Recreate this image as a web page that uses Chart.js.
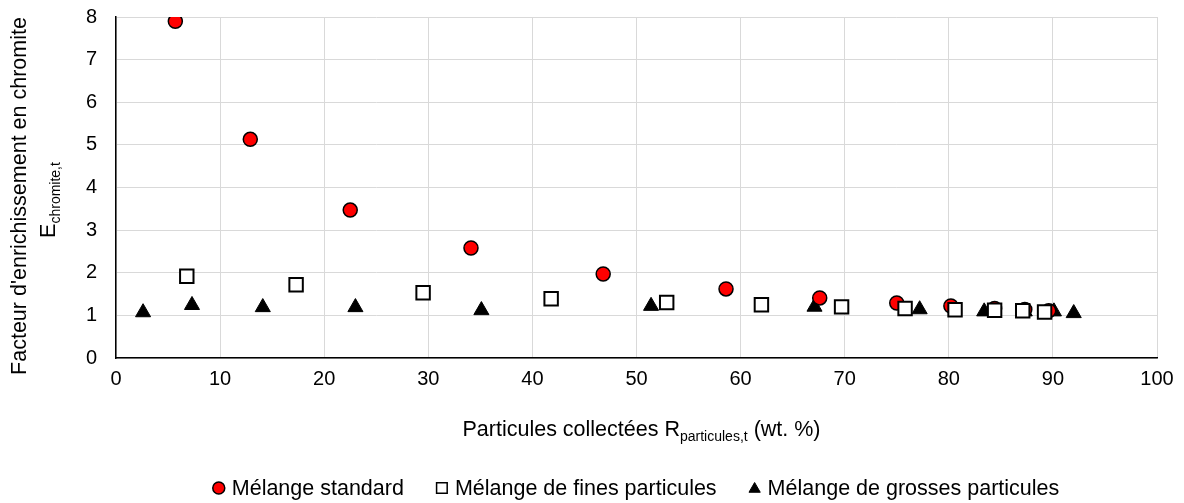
<!DOCTYPE html>
<html>
<head>
<meta charset="utf-8">
<script src="https://cdn.jsdelivr.net/npm/chart.js@4"></script>
<style>
html,body{margin:0;padding:0;background:#fff;}
#wrap{width:1184px;height:503px;position:relative;}
</style>
</head>
<body>
<div id="wrap"><canvas id="c" width="1184" height="503"></canvas></div>
<script>
// ---- data ----
const seriesNames = ["Mélange standard", "Mélange de fines particules", "Mélange de grosses particules"];
const standardX = [5.7, 12.9, 22.5, 34.1, 46.8, 58.6, 67.6, 75.0, 80.2, 84.4, 87.3, 89.6];
const standardY = [7.90, 5.13, 3.47, 2.58, 1.97, 1.62, 1.41, 1.29, 1.22, 1.16, 1.14, 1.11];
const finesX = [6.8, 17.3, 29.5, 41.8, 52.9, 62.0, 69.7, 75.8, 80.6, 84.4, 87.1, 89.2];
const finesY = [1.92, 1.72, 1.53, 1.39, 1.30, 1.25, 1.20, 1.16, 1.13, 1.12, 1.11, 1.08];
const grossesX = [2.6, 7.3, 14.1, 23.0, 35.1, 51.4, 67.1, 77.2, 83.4, 87.3, 90.1, 92.0];
const grossesY = [1.07, 1.24, 1.19, 1.19, 1.12, 1.22, 1.20, 1.14, 1.09, 1.09, 1.09, 1.05];
const xTicks = [0, 10, 20, 30, 40, 50, 60, 70, 80, 90, 100];
const yTicks = [0, 1, 2, 3, 4, 5, 6, 7, 8];
const yTitleLine1 = [{t:"Facteur d'enrichissement en chromite"}];
const yTitleLine2 = [{t:"E"},{t:"chromite,t",sub:true}];
const xTitle = [{t:"Particules collectées R"},{t:"particules,t",sub:true},{t:" (wt. %)"}];

const FONT = "'Liberation Sans', Arial, sans-serif";
const FS = 20;      // tick labels
const FT = 21.5;    // titles & legend

function pts(xs, ys){ return xs.map((x,i)=>({x:x, y:ys[i]})); }

function drawRich(ctx, segs, cx, cy, size){
  const subSize = Math.round(size*0.65);
  let w = 0;
  segs.forEach(s=>{ ctx.font = (s.sub?subSize:size)+"px "+FONT; s.w = ctx.measureText(s.t).width; w += s.w; });
  let x = cx - w/2;
  ctx.textBaseline = "alphabetic";
  ctx.textAlign = "left";
  segs.forEach(s=>{
    ctx.font = (s.sub?subSize:size)+"px "+FONT;
    ctx.fillText(s.t, x, cy + size*0.36 + (s.sub? size*0.25 : 0));
    x += s.w;
  });
}

const titlesPlugin = {
  id: 'titlesAndLegend',
  afterDraw(chart){
    const ctx = chart.ctx;
    const ca = chart.chartArea;
    ctx.save();
    ctx.fillStyle = "#000";
    // x title
    drawRich(ctx, xTitle, (ca.left+ca.right)/2 + 5, 428, FT);
    // y title
    ctx.save();
    ctx.translate(18, 196);
    ctx.rotate(-Math.PI/2);
    drawRich(ctx, yTitleLine1, 0, 0, FT);
    ctx.restore();
    ctx.save();
    ctx.translate(47, 200);
    ctx.rotate(-Math.PI/2);
    drawRich(ctx, yTitleLine2, 0, 0, FT);
    ctx.restore();
    // legend
    ctx.font = FT+"px "+FONT;
    const gapMarkerText = 13, gapItems = 38;
    const widths = seriesNames.map(n=>ctx.measureText(n).width);
    let total = 0;
    widths.forEach((w,i)=>{ total += gapMarkerText + w + (i<widths.length-1?gapItems:0); });
    let x = 639 - total/2;
    const ly = 488;
    const legendStyles = [
      {pointStyle:'circle', radius:6, borderWidth:1.5, bg:'#ff0000'},
      {pointStyle:'rect', radius:7.5, borderWidth:1.5, bg:'#ffffff'},
      {pointStyle:'triangle', radius:6.5, borderWidth:1, bg:'#000000'}
    ];
    seriesNames.forEach((name,i)=>{
      const st = legendStyles[i];
      ctx.fillStyle = st.bg;
      ctx.strokeStyle = '#000';
      ctx.lineWidth = st.borderWidth;
      Chart.helpers.drawPoint(ctx, {pointStyle: st.pointStyle, radius: st.radius, rotation: 0, borderWidth: st.borderWidth}, x, ly + (st.pointStyle==='triangle'?1:0));
      ctx.fillStyle = '#000';
      ctx.font = FT+"px "+FONT;
      ctx.textAlign = 'left';
      ctx.textBaseline = 'middle';
      ctx.fillText(name, x + gapMarkerText, ly+1);
      x += gapMarkerText + widths[i] + gapItems;
    });
    ctx.restore();
  }
};

new Chart(document.getElementById('c'), {
  type: 'scatter',
  data: {
    datasets: [
      { label: seriesNames[0], data: pts(standardX, standardY), pointStyle:'circle', pointRadius:7, backgroundColor:'#ff0000', borderColor:'#000', borderWidth:1.5, order:2 },
      { label: seriesNames[1], data: pts(finesX, finesY), pointStyle:'rect', pointRadius:9.5, backgroundColor:'#ffffff', borderColor:'#000', borderWidth:2, order:1 },
      { label: seriesNames[2], data: pts(grossesX, grossesY), pointStyle:'triangle', pointRadius:8.7, backgroundColor:'#000', borderColor:'#000', borderWidth:1, order:3 }
    ]
  },
  options: {
    responsive: false,
    animation: false,
    events: [],
    layout: { padding: { left: 0, top: 17, right: 27, bottom: 0 } },
    plugins: { legend: { display: false }, tooltip: { enabled: false } },
    scales: {
      x: {
        type: 'linear', min: 0, max: 100,
        afterBuildTicks(scale){ scale.ticks = xTicks.map(v=>({value:v})); },
        afterFit(scale){ scale.height = 145; scale.paddingLeft = 0; scale.paddingRight = 0; },
        ticks: { font: { family: FONT, size: FS }, color: '#000', padding: 9, maxRotation: 0 },
        grid: { color: '#d9d9d9', lineWidth: 1, drawTicks: false },
        border: { color: '#000', width: 1.5 }
      },
      y: {
        type: 'linear', min: 0, max: 8,
        afterBuildTicks(scale){ scale.ticks = yTicks.map(v=>({value:v})); },
        afterFit(scale){ scale.width = 116; scale.paddingTop = 0; scale.paddingBottom = 0; },
        ticks: { font: { family: FONT, size: FS }, color: '#000', padding: 19 },
        grid: { color: '#d9d9d9', lineWidth: 1, drawTicks: false },
        border: { color: '#000', width: 1.5 }
      }
    }
  },
  plugins: [titlesPlugin]
});
</script>
</body>
</html>
